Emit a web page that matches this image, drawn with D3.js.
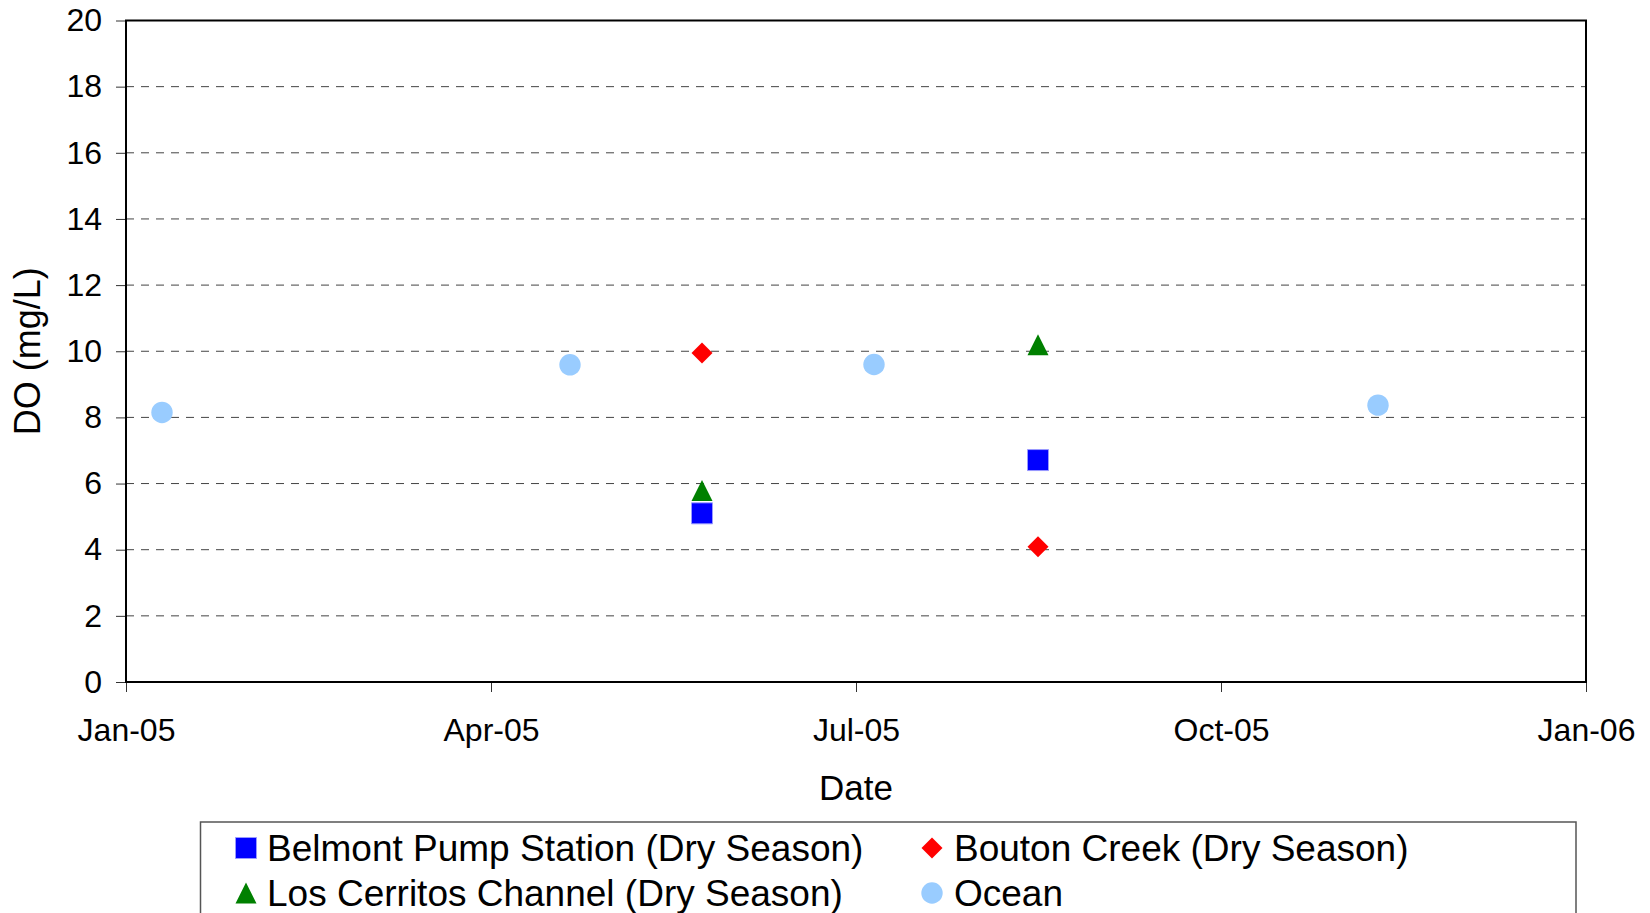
<!DOCTYPE html>
<html>
<head>
<meta charset="utf-8">
<script src="https://cdn.jsdelivr.net/npm/d3@7"></script>
<style>
  html, body { margin: 0; padding: 0; background: #fff; }
  svg { display: block; font-family: "Liberation Sans", Arial, sans-serif; }
</style>
</head>
<body>
<div id="chart"></div>
<script>
// series data (dates)
const belmontDates = ["2005-05-25", "2005-08-17"];
const belmontValues = [5.10, 6.71];
const boutonDates = ["2005-05-25", "2005-08-17"];
const boutonValues = [9.95, 4.09];
const cerritosDates = ["2005-05-25", "2005-08-17"];
const cerritosValues = [5.79, 10.2];
const oceanDates = ["2005-01-10", "2005-04-22", "2005-07-07", "2005-11-10"];
const oceanValues = [8.15, 9.59, 9.6, 8.37];

const seriesNames = [
    "Belmont Pump Station (Dry Season)",
    "Bouton Creek (Dry Season)",
    "Los Cerritos Channel (Dry Season)",
    "Ocean"
];
const yTicks = [0, 2, 4, 6, 8, 10, 12, 14, 16, 18, 20];
const xStart = "2005-01-01", xEnd = "2006-01-01";

const width = 1650, height = 913;
const margin = { left: 126, right: 64, top: 20.5, bottom: 231 };

const parse = d3.timeParse("%Y-%m-%d");

const svg = d3.select("#chart").append("svg")
    .attr("width", width)
    .attr("height", height);

const x = d3.scaleTime()
    .domain([parse(xStart), parse(xEnd)])
    .range([margin.left, width - margin.right]);
const y = d3.scaleLinear()
    .domain([0, 20])
    .range([height - margin.bottom, margin.top]);

// excel style: 4 equal steps across the year
const x0 = x.domain()[0].getTime(), x1 = x.domain()[1].getTime();
const xTickValues = d3.range(5).map(i => new Date(x0 + (x1 - x0) * i / 4));

// gridlines
svg.append("g")
    .selectAll("line")
    .data(yTicks.filter(d => d > 0 && d < 20))
    .enter()
    .append("line")
    .attr("x1", margin.left)
    .attr("x2", width - margin.right)
    .attr("y1", d => y(d))
    .attr("y2", d => y(d))
    .attr("stroke", "#444")
    .attr("stroke-width", 1)
    .attr("stroke-dasharray", "8,7");

// y axis
const yAxis = svg.append("g")
    .attr("transform", `translate(${margin.left},0)`)
    .call(d3.axisLeft(y).tickValues(yTicks).tickSize(10).tickPadding(14));
yAxis.select(".domain").remove();
yAxis.selectAll(".tick line").attr("stroke", "#333");
yAxis.selectAll(".tick text")
    .attr("font-size", 32)
    .attr("font-family", "Liberation Sans, Arial, sans-serif")
    .attr("fill", "#000");

// x axis
const xAxis = svg.append("g")
    .attr("transform", `translate(0,${y(0)})`)
    .call(d3.axisBottom(x).tickValues(xTickValues).tickFormat(d3.timeFormat("%b-%y")).tickSize(10).tickPadding(26));
xAxis.select(".domain").remove();
xAxis.selectAll(".tick line").attr("stroke", "#333");
xAxis.selectAll(".tick text")
    .attr("font-size", 32)
    .attr("font-family", "Liberation Sans, Arial, sans-serif")
    .attr("fill", "#000");

// plot frame
svg.append("rect")
    .attr("x", margin.left)
    .attr("y", margin.top)
    .attr("width", width - margin.right - margin.left)
    .attr("height", y(0) - margin.top)
    .attr("fill", "none")
    .attr("stroke", "#000")
    .attr("stroke-width", 2);

// axis titles
svg.append("text")
    .attr("x", (margin.left + width - margin.right) / 2)
    .attr("y", 800)
    .attr("text-anchor", "middle")
    .attr("font-size", 35)
    .text("Date");

svg.append("text")
    .attr("transform", `translate(39.5,${(margin.top + y(0)) / 2}) rotate(-90)`)
    .attr("text-anchor", "middle")
    .attr("font-size", 36)
    .text("DO (mg/L)");

// excel-like isoceles triangle, as wide as tall
const excelTriangle = {
    draw(ctx, size) {
        const h = Math.sqrt(size) / 2;
        ctx.moveTo(0, -h);
        ctx.lineTo(h, h);
        ctx.lineTo(-h, h);
        ctx.closePath();
    }
};

const markerSize = 21;
const series = [
    { name: seriesNames[0], dates: belmontDates, values: belmontValues, type: d3.symbolSquare, size: markerSize * markerSize, fill: "#0000ff", stroke: "#9a9aff", rotate: 0 },
    { name: seriesNames[1], dates: boutonDates, values: boutonValues, type: d3.symbolSquare, size: markerSize * markerSize / 2, fill: "#ff0000", stroke: "none", rotate: 45 },
    { name: seriesNames[2], dates: cerritosDates, values: cerritosValues, type: excelTriangle, size: markerSize * markerSize, fill: "#008000", stroke: "none", rotate: 0 },
    { name: seriesNames[3], dates: oceanDates, values: oceanValues, type: d3.symbolCircle, size: Math.PI * 10.7 * 10.7, fill: "#99ccff", stroke: "none", rotate: 0 }
];

series.forEach(s => {
    const pts = s.dates.map((d, i) => ({ date: parse(d), value: s.values[i] }));
    svg.append("g")
        .selectAll("path")
        .data(pts)
        .enter()
        .append("path")
        .attr("d", d3.symbol().type(s.type).size(s.size))
        .attr("transform", d => `translate(${x(d.date)},${y(d.value)}) rotate(${s.rotate})`)
        .attr("fill", s.fill)
        .attr("stroke", s.stroke)
        .attr("stroke-width", 1);
});

// legend
const legend = svg.append("g");
legend.append("rect")
    .attr("x", 200.5)
    .attr("y", 822)
    .attr("width", 1375.5)
    .attr("height", 140)
    .attr("fill", "#fff")
    .attr("stroke", "#555")
    .attr("stroke-width", 1.5);

const legendPos = [
    { mx: 246, tx: 267, cy: 848 },
    { mx: 932, tx: 954, cy: 848 },
    { mx: 246, tx: 267, cy: 893 },
    { mx: 932, tx: 954, cy: 893 }
];

series.forEach((s, i) => {
    const p = legendPos[i];
    legend.append("path")
        .attr("d", d3.symbol().type(s.type).size(s.size))
        .attr("transform", `translate(${p.mx},${p.cy}) rotate(${s.rotate})`)
        .attr("fill", s.fill)
        .attr("stroke", s.stroke);
    legend.append("text")
        .attr("x", p.tx)
        .attr("y", p.cy + 13)
        .attr("font-size", 37)
        .text(s.name);
});
</script>
</body>
</html>
